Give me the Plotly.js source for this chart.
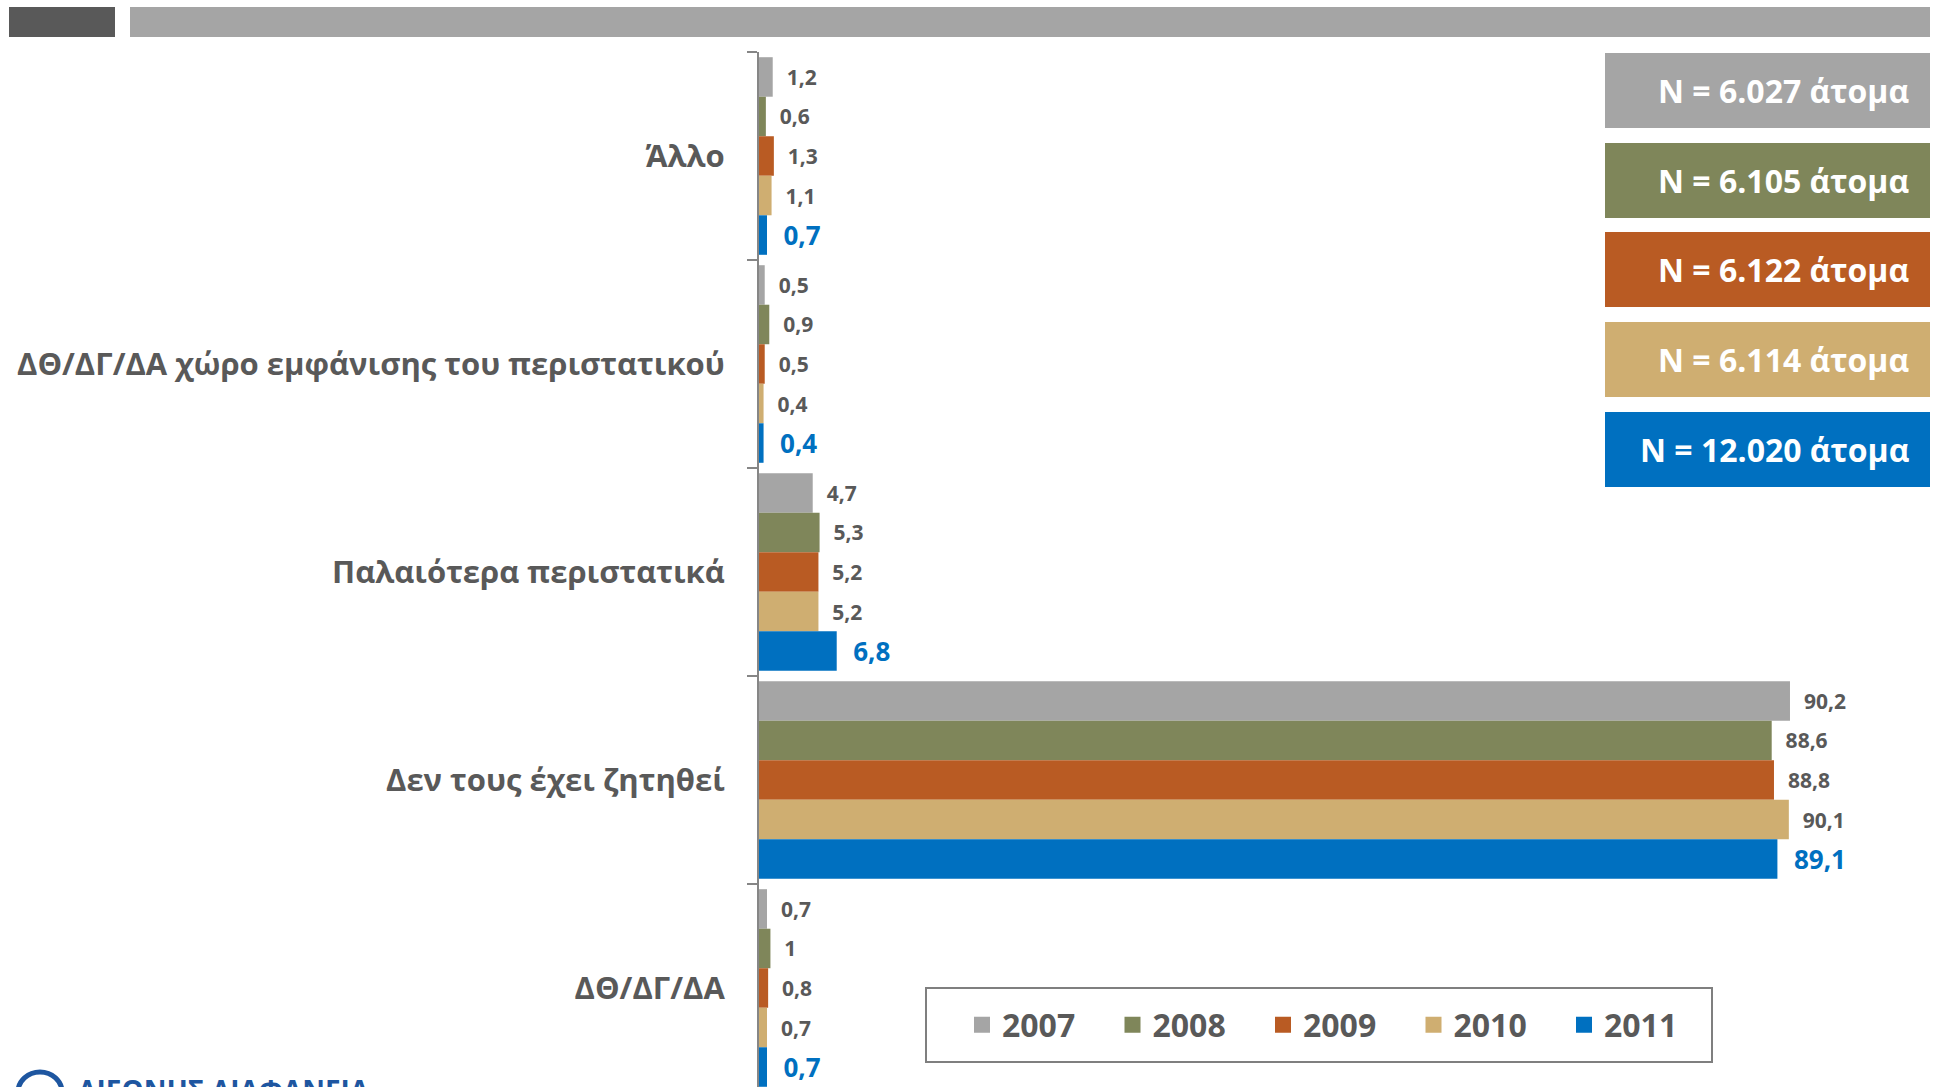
<!DOCTYPE html>
<html>
<head>
<meta charset="utf-8">
<script src="https://cdn.plot.ly/plotly-3.0.1.min.js"></script>
<style>html,body{margin:0;padding:0;background:#fff;}#chart{width:1934px;height:1087px;}</style>
</head>
<body>
<div id="chart"></div>
<script>
// ---- data ----
const categories = ['Άλλο', 'ΔΘ/ΔΓ/ΔΑ χώρο εμφάνισης του περιστατικού', 'Παλαιότερα περιστατικά', 'Δεν τους έχει ζητηθεί', 'ΔΘ/ΔΓ/ΔΑ'];
const years = ['2007', '2008', '2009', '2010', '2011'];
const v2007 = [1.2, 0.5, 4.7, 90.2, 0.7];
const v2008 = [0.6, 0.9, 5.3, 88.6, 1];
const v2009 = [1.3, 0.5, 5.2, 88.8, 0.8];
const v2010 = [1.1, 0.4, 5.2, 90.1, 0.7];
const v2011 = [0.7, 0.4, 6.8, 89.1, 0.7];
const sampleSizes = ['N = 6.027 άτομα', 'N = 6.105 άτομα', 'N = 6.122 άτομα', 'N = 6.114 άτομα', 'N = 12.020 άτομα'];
const logoText = 'ΔΙΕΘΝΗΣ ΔΙΑΦΑΝΕΙΑ';

// ---- styles ----
const colors = ['#A5A5A5', '#7F865A', '#B95B23', '#CFAE71', '#0070C0'];
const FONT = 'Open Sans, Noto Sans, sans-serif';
const W = 1934, H = 1087;
const M = {l: 759, r: 32, t: 52, b: 0};
const PW = W - M.l - M.r, PH = H - M.t - M.b;
const px2x = p => (p - M.l) / PW;
const px2y = p => (H - M.b - p) / PH;

const series = [v2007, v2008, v2009, v2010, v2011];
const fmt = v => String(v).replace('.', ',');

const traces = series.map((vals, i) => {
  const last = i === series.length - 1;
  return {
    type: 'bar',
    orientation: 'h',
    name: years[i],
    showlegend: false,
    y: categories,
    x: vals,
    text: vals.map(v => '\u00a0\u00a0' + fmt(v)),
    textposition: 'outside',
    constraintext: 'none',
    cliponaxis: false,
    textfont: {family: FONT, size: last ? 26 : 21, color: last ? '#0070C0' : '#595959', weight: 'bold'},
    marker: {color: colors[i], line: {width: 0}},
    hoverinfo: 'x+y+name'
  };
});
// legend entries (square swatches)
years.forEach((yr, i) => {
  traces.push({type: 'scatter', mode: 'markers', name: yr, x: [null], y: [null], showlegend: true,
    marker: {symbol: 'square', size: 20, color: colors[i], line: {width: 0}}, hoverinfo: 'skip'});
});

const shapes = [
  {type: 'rect', xref: 'paper', yref: 'paper', x0: px2x(9), x1: px2x(115), y0: px2y(7), y1: px2y(37), fillcolor: '#595959', line: {width: 0}, layer: 'above'},
  {type: 'rect', xref: 'paper', yref: 'paper', x0: px2x(130), x1: px2x(1930), y0: px2y(7), y1: px2y(37), fillcolor: '#A5A5A5', line: {width: 0}, layer: 'above'},
  // legend frame
  {type: 'rect', xref: 'paper', yref: 'paper', x0: px2x(926), x1: px2x(1712), y0: px2y(988), y1: px2y(1062), fillcolor: 'rgba(0,0,0,0)', line: {color: '#7F7F7F', width: 2}, layer: 'above'},
  // logo mark
  {type: 'circle', xref: 'paper', yref: 'paper', x0: px2x(18), x1: px2x(62), y0: px2y(1072), y1: px2y(1112), fillcolor: 'rgba(0,0,0,0)', line: {color: '#1E56A0', width: 5}, layer: 'above'}
];
const boxTops = [53, 143, 232, 322, 412];
const annotations = [];
boxTops.forEach((t, i) => {
  shapes.push({type: 'rect', xref: 'paper', yref: 'paper', x0: px2x(1605), x1: px2x(1930), y0: px2y(t), y1: px2y(t + 75), fillcolor: colors[i], line: {width: 0}, layer: 'above'});
  annotations.push({xref: 'paper', yref: 'paper', x: px2x(1911), y: px2y(t + 37.5), xanchor: 'right', yanchor: 'middle', showarrow: false,
    text: sampleSizes[i], font: {family: FONT, size: 32, color: '#FFFFFF', weight: 'bold'}});
});
annotations.push({xref: 'paper', yref: 'paper', x: px2x(76), y: px2y(1069), xanchor: 'left', yanchor: 'top', showarrow: false,
  text: logoText, font: {family: FONT, size: 28, color: '#1E56A0', weight: 'bold'}});

const layout = {
  width: W, height: H,
  margin: M,
  paper_bgcolor: '#FFFFFF', plot_bgcolor: '#FFFFFF',
  barmode: 'group', bargap: 0.05, bargroupgap: 0,
  showlegend: true,
  legend: {orientation: 'h', x: px2x(962), y: px2y(1025), xanchor: 'left', yanchor: 'middle',
    bgcolor: 'rgba(0,0,0,0)', borderwidth: 0, entrywidth: 105.5, traceorder: 'normal', itemsizing: 'trace',
    font: {family: FONT, size: 32, color: '#595959', weight: 'bold'}},
  xaxis: {range: [0, 100], visible: false, showgrid: false, zeroline: false, fixedrange: true},
  yaxis: {type: 'category', categoryorder: 'array', categoryarray: categories, range: [4.476, -0.5],
    showline: true, linecolor: '#868686', linewidth: 2, ticks: 'outside', ticklen: 10, tickwidth: 2, tickcolor: '#868686',
    tickson: 'boundaries', showgrid: false, zeroline: false, ticklabelstandoff: 26,
    tickfont: {family: FONT, size: 31, color: '#595959', weight: 'bold'}, automargin: false, fixedrange: true},
  shapes: shapes,
  annotations: annotations
};

Plotly.newPlot('chart', traces, layout, {displayModeBar: false, staticPlot: true});
</script>
</body>
</html>
